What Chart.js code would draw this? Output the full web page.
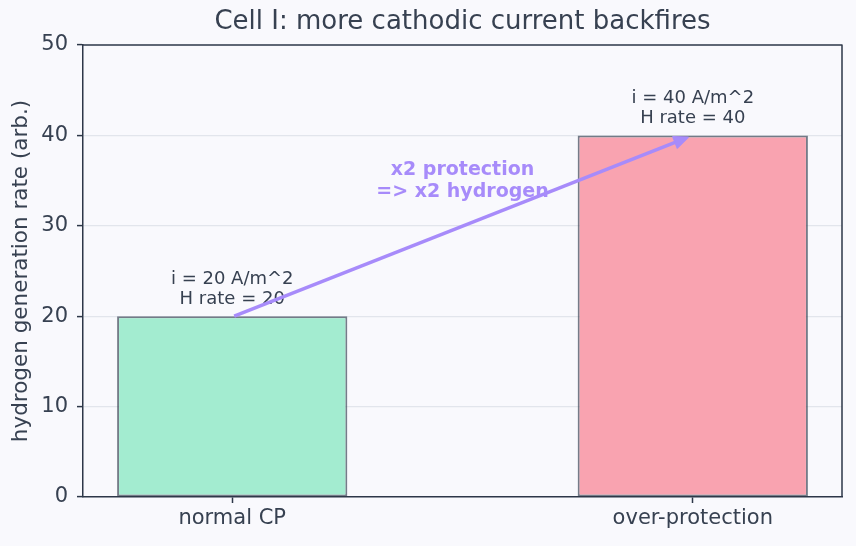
<!DOCTYPE html>
<html>
<head>
<meta charset="utf-8">
<script src="https://cdn.jsdelivr.net/npm/chart.js@4/dist/chart.umd.min.js"></script>
<style>
  html, body { margin: 0; padding: 0; background: #f9f9fd; }
  #wrap { width: 856px; height: 546px; }
</style>
</head>
<body>
<div id="wrap"><canvas id="myChart"></canvas></div>
<script>
// data
var categories = ['normal CP', 'over-protection'];
var currents = [20, 40];      // A/m^2
var hRates = [20, 40];        // hydrogen generation rate (arb.)
var yTicks = [0, 10, 20, 30, 40, 50];
var arrowNote = ['x2 protection', '=> x2 hydrogen'];

var textColor = '#374151';
var axisColor = '#2d3748';
var arrowColor = '#a78bfa';

// extra drawing: title, frame, value notes, arrow
var extras = {
    id: 'extras',
    beforeDraw: function(chart) {
        var c = chart.ctx;
        c.save();
        c.fillStyle = '#f9f9fd';
        c.fillRect(0, 0, chart.width, chart.height);
        c.fillStyle = textColor;
        c.font = '26px "DejaVu Sans"';
        c.textAlign = 'center';
        c.textBaseline = 'middle';
        var a = chart.chartArea;
        c.fillText('Cell I: more cathodic current backfires', (a.left + a.right) / 2, 22);
        c.restore();
    },
    afterDatasetsDraw: function(chart) {
        var c = chart.ctx;
        var xs = chart.scales.x, ys = chart.scales.y;
        var a = chart.chartArea;
        c.save();

        // notes above bars
        c.fillStyle = textColor;
        c.font = '18px "DejaVu Sans"';
        c.textAlign = 'center';
        c.textBaseline = 'alphabetic';
        for (var i = 0; i < categories.length; i++) {
            var px = xs.getPixelForValue(i);
            var py = ys.getPixelForValue(hRates[i] + 1);
            c.fillText('H rate = ' + hRates[i], px, py - 3);
            c.fillText('i = ' + currents[i] + ' A/m^2', px, py - 23);
        }

        // arrow between the two bars
        var x0 = xs.getPixelForValue(0) + 2, y0 = ys.getPixelForValue(hRates[0]);
        var x1 = xs.getPixelForValue(1), y1 = ys.getPixelForValue(hRates[1]);
        var ang = Math.atan2(y1 - y0, x1 - x0);
        x1 -= Math.cos(ang) * 5; y1 -= Math.sin(ang) * 5;
        var hl = 14, hw = 6;
        var bx = x1 - Math.cos(ang) * hl, by = y1 - Math.sin(ang) * hl;
        c.strokeStyle = arrowColor;
        c.fillStyle = arrowColor;
        c.lineWidth = 3.5;
        c.lineJoin = 'round';
        c.beginPath();
        c.moveTo(x0, y0);
        c.lineTo(bx, by);
        c.stroke();
        c.beginPath();
        c.moveTo(x1, y1);
        c.lineTo(bx + Math.sin(ang) * hw, by - Math.cos(ang) * hw);
        c.lineTo(bx - Math.sin(ang) * hw, by + Math.cos(ang) * hw);
        c.closePath();
        c.fill();
        c.lineWidth = 1.5;
        c.stroke();

        c.font = 'bold 19px "DejaVu Sans"';
        c.textBaseline = 'middle';
        var tx = xs.getPixelForValue(0.5), ty = ys.getPixelForValue(35);
        c.fillText(arrowNote[0], tx, ty - 11);
        c.fillText(arrowNote[1], tx, ty + 11);

        // top and right frame
        c.strokeStyle = axisColor;
        c.lineWidth = 1.5;
        c.beginPath();
        c.moveTo(a.left, a.top);
        c.lineTo(a.right, a.top);
        c.lineTo(a.right, a.bottom);
        c.stroke();
        c.restore();
    }
};

var ctx = document.getElementById('myChart').getContext('2d');
var chart = new Chart(ctx, {
    type: 'bar',
    data: {
        datasets: [{
            data: [{x: 0, y: hRates[0]}, {x: 1, y: hRates[1]}],
            backgroundColor: ['#a3ecd0', '#f9a3b0'],
            borderColor: 'rgba(55,65,81,0.68)',
            borderWidth: 2,
            borderSkipped: false,
            barPercentage: 0.5,
            categoryPercentage: 1
        }]
    },
    options: {
        responsive: true,
        maintainAspectRatio: false,
        animation: false,
        layout: { padding: { top: 45, right: 14, left: 0, bottom: 0 } },
        plugins: {
            legend: { display: false },
            title: { display: false },
            tooltip: { enabled: false }
        },
        scales: {
            x: {
                type: 'linear',
                offset: false,
                min: -0.324,
                max: 1.324,
                afterBuildTicks: function(scale) {
                    scale.ticks = categories.map(function(c, i) { return {value: i}; });
                },
                afterFit: function(scale) { scale.height = 49; },
                ticks: {
                    color: textColor,
                    font: { family: 'DejaVu Sans', size: 21 },
                    padding: 3,
                    callback: function(v) { return categories[v]; }
                },
                grid: { offset: false, drawOnChartArea: false, drawTicks: true, tickLength: 6, tickColor: axisColor, tickWidth: 1.5 },
                border: { display: true, color: axisColor, width: 1.5 }
            },
            y: {
                min: 0,
                max: 50,
                afterBuildTicks: function(scale) {
                    scale.ticks = yTicks.map(function(v) { return {value: v}; });
                },
                afterFit: function(scale) { scale.width = 83; },
                ticks: {
                    color: textColor,
                    font: { family: 'DejaVu Sans', size: 21 },
                    padding: 9
                },
                grid: {
                    color: function(c) { return (c.tick && (c.tick.value === 0 || c.tick.value === 50)) ? 'rgba(0,0,0,0)' : '#e2e5ec'; },
                    lineWidth: 1.2,
                    drawTicks: true,
                    tickLength: 6,
                    tickColor: axisColor,
                    tickWidth: 1.5
                },
                border: { display: true, color: axisColor, width: 1.5 },
                title: {
                    display: true,
                    text: 'hydrogen generation rate (arb.)',
                    color: textColor,
                    font: { family: 'DejaVu Sans', size: 21.5 },
                    padding: { top: 9, bottom: 4 }
                }
            }
        }
    },
    plugins: [extras]
});
</script>
</body>
</html>
